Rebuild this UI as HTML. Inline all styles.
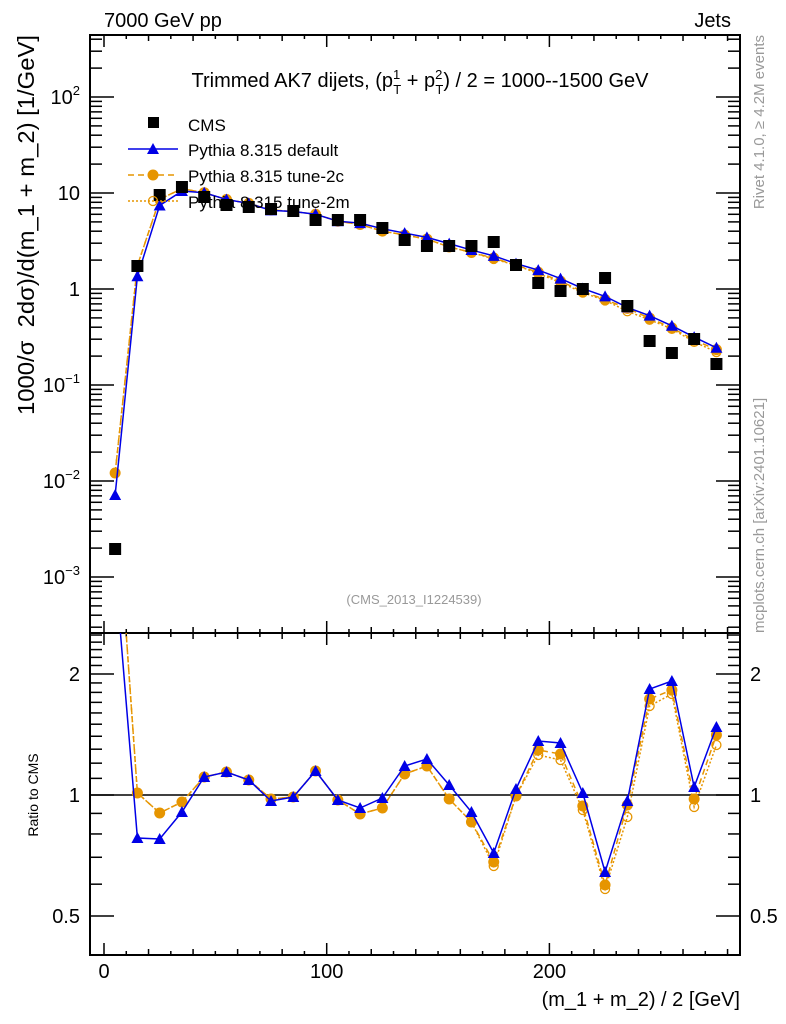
<!DOCTYPE html>
<html><head><meta charset="utf-8"><style>
html,body{margin:0;padding:0;background:#fff;}
svg{display:block;font-family:"Liberation Sans",sans-serif;}
</style></head><body>
<svg id="s" width="786" height="1024" xmlns="http://www.w3.org/2000/svg">
<defs>
<clipPath id="cm"><rect x="90" y="35" width="650" height="598"/></clipPath>
<clipPath id="cr"><rect x="90" y="633" width="650" height="322"/></clipPath>
</defs>
<text x="104" y="27" font-size="20">7000 GeV pp</text>
<text x="731" y="27" font-size="20" text-anchor="end">Jets</text>
<text x="420" y="87" font-size="20" text-anchor="middle">Trimmed AK7 dijets, (p<tspan font-size="13" dy="-8">1</tspan><tspan font-size="13" dx="-7" dy="15">T</tspan><tspan dy="-7"> + p</tspan><tspan font-size="13" dy="-8">2</tspan><tspan font-size="13" dx="-7" dy="15">T</tspan><tspan dy="-7">) / 2 = 1000--1500 GeV</tspan></text>
<text x="414" y="604" font-size="13" fill="#999" text-anchor="middle">(CMS_2013_I1224539)</text>
<text transform="translate(764,35) rotate(-90)" font-size="15" fill="#999" text-anchor="end">Rivet 4.1.0, ≥ 4.2M events</text>
<text transform="translate(764,633) rotate(-90)" font-size="15" fill="#999">mcplots.cern.ch [arXiv:2401.10621]</text>
<text transform="translate(34,225) rotate(-90)" font-size="23" text-anchor="middle" textLength="380" lengthAdjust="spacingAndGlyphs">1000/σ &#160;2dσ)/d(m_1 + m_2) [1/GeV]</text>
<text transform="translate(38,795) rotate(-90)" font-size="14" text-anchor="middle">Ratio to CMS</text>
<text x="740" y="1006" font-size="20" text-anchor="end">(m_1 + m_2) / 2 [GeV]</text>
<g id="g"></g>
</svg>
<script>
var NS="http://www.w3.org/2000/svg",g=document.getElementById("g");
function el(t,a,p){var e=document.createElementNS(NS,t);for(var k in a)e.setAttribute(k,a[k]);(p||g).appendChild(e);return e;}
function X(v){return 104+v*2.227;}
var L=90,R=740,T=35,M=633,B=955;
el("rect",{x:L,y:T,width:R-L,height:M-T,fill:"none",stroke:"#000","stroke-width":2});
el("rect",{x:L,y:M,width:R-L,height:B-M,fill:"none",stroke:"#000","stroke-width":2});
for(var v=0;v<=280;v+=10){var big=v%100==0;var x=X(v);
 [[T,1],[M,1],[M,-1],[B,-1]].forEach(function(p){el("line",{x1:x,x2:x,y1:p[0],y2:p[0]+p[1]*(big?12:(v%20==0?6:4)),stroke:"#000","stroke-width":1.5});});
 if(big) el("text",{x:x,y:978,"font-size":20,"text-anchor":"middle"}).textContent=v;}
function YM(l){return 289-96*l;}
for(var d=-4;d<=2;d++)for(var k=1;k<10;k++){var l=d+Math.log10(k),y=YM(l);if(y<T||y>M)continue;
 var len=k==1?24:12;el("line",{x1:L,x2:L+len,y1:y,y2:y,stroke:"#000","stroke-width":1.5});el("line",{x1:R,x2:R-len,y1:y,y2:y,stroke:"#000","stroke-width":1.5});}
var labs=[[2,"10","2"],[1,"10",""],[0,"1",""],[-1,"10","−1"],[-2,"10","−2"],[-3,"10","−3"]];
labs.forEach(function(a){var t=el("text",{x:80,y:YM(a[0])+7,"font-size":20,"text-anchor":"end"});
 if(a[2]){t.textContent="10";var s=el("tspan",{"font-size":13,dy:-9},t);s.textContent=a[2];} else t.textContent=a[1];});
function YR(r){return 795-402*Math.log10(r);}
for(var r=0.4;r<=2.55;r+=0.1){var rr=Math.round(r*10)/10,y=YR(rr);if(y<M||y>B)continue;var big=(rr==0.5||rr==1||rr==2);
 var len=big?24:12;el("line",{x1:L,x2:L+len,y1:y,y2:y,stroke:"#000","stroke-width":1.5});el("line",{x1:R,x2:R-len,y1:y,y2:y,stroke:"#000","stroke-width":1.5});}
[[2,"2"],[1,"1"],[0.5,"0.5"]].forEach(function(a){el("text",{x:80,y:YR(a[0])+7,"font-size":20,"text-anchor":"end"}).textContent=a[1];
 el("text",{x:750,y:YR(a[0])+7,"font-size":20}).textContent=a[1];});
el("line",{x1:L,x2:R,y1:795,y2:795,stroke:"#000","stroke-width":1.5});
var xs=[];for(var i=0;i<28;i++)xs.push(5+10*i);
var cmsY=[549,266,195,187,197,205,207,209,211,220,220,220,228,240,246,246,246,242,265,283,291,289,278,306,341,353,339,364];
var rD=[null,838,839,812,777,772,780,801,797,771,800,808,798,766,759,785,812,853,789,741,743,793,872,801,689,681,787,727];
var rC=[null,793,813,802,777,772,780,799,797,771,800,814,808,774,766,799,822,862,796,750,754,806,885,805,699,690,799,735];
var rM=[null,793,813,802,777,772,780,799,797,771,800,814,808,774,766,799,822,866,796,755,760,810,889,817,706,694,807,745];
function mainY(ry,i,first){if(i==0)return first;return cmsY[i]+(ry-795)*96/402;}
function ratY(ry,i,first){if(i==0)return 795-402*((549-first)/96);return ry;}
var series=[[rD,"#0000e6","",495,"tri"],[rC,"#e69500","6,4",473,"fill"],[rM,"#e69500","2,2",473,"open"]];
var gm=el("g",{"clip-path":"url(#cm)"}),gr=el("g",{"clip-path":"url(#cr)"});
function mark(par,type,col,x,y){
 if(type=="tri")el("path",{d:"M"+x+","+(y-6)+"L"+(x+6)+","+(y+5)+"L"+(x-6)+","+(y+5)+"Z",fill:col},par);
 else if(type=="fill")el("circle",{cx:x,cy:y,r:5.5,fill:col},par);
 else el("circle",{cx:x,cy:y,r:4.5,fill:"none",stroke:col,"stroke-width":1.3},par);}
[2,1,0].forEach(function(si){var s=series[si];var pm=[],pr=[];
 for(var i=0;i<28;i++){pm.push([X(xs[i]),mainY(s[0][i],i,s[3])]);pr.push([X(xs[i]),ratY(s[0][i],i,s[3])]);}
 [[gm,pm],[gr,pr]].forEach(function(q){el("polyline",{points:q[1].map(function(p){return p.join(",")}).join(" "),fill:"none",stroke:s[1],"stroke-width":1.5,"stroke-dasharray":s[2]},q[0]);
  q[1].forEach(function(p){mark(q[0],s[4],s[1],p[0],p[1]);});});});
for(var i=0;i<28;i++)el("rect",{x:X(xs[i])-6,y:cmsY[i]-6,width:12,height:12,fill:"#000"},gm);
el("rect",{x:148,y:117,width:11,height:11,fill:"#000"});
el("text",{x:188,y:131,"font-size":17}).textContent="CMS";
el("line",{x1:128,x2:178,y1:149,y2:149,stroke:"#0000e6","stroke-width":1.5});mark(g,"tri","#0000e6",153,149);
el("text",{x:188,y:156,"font-size":17}).textContent="Pythia 8.315 default";
el("line",{x1:128,x2:178,y1:175,y2:175,stroke:"#e69500","stroke-width":1.5,"stroke-dasharray":"6,4"});mark(g,"fill","#e69500",153,175);
el("text",{x:188,y:182,"font-size":17}).textContent="Pythia 8.315 tune-2c";
el("line",{x1:128,x2:178,y1:201,y2:201,stroke:"#e69500","stroke-width":1.5,"stroke-dasharray":"2,2"});mark(g,"open","#e69500",153,201);
el("text",{x:188,y:208,"font-size":17}).textContent="Pythia 8.315 tune-2m";
</script>
</body></html>
